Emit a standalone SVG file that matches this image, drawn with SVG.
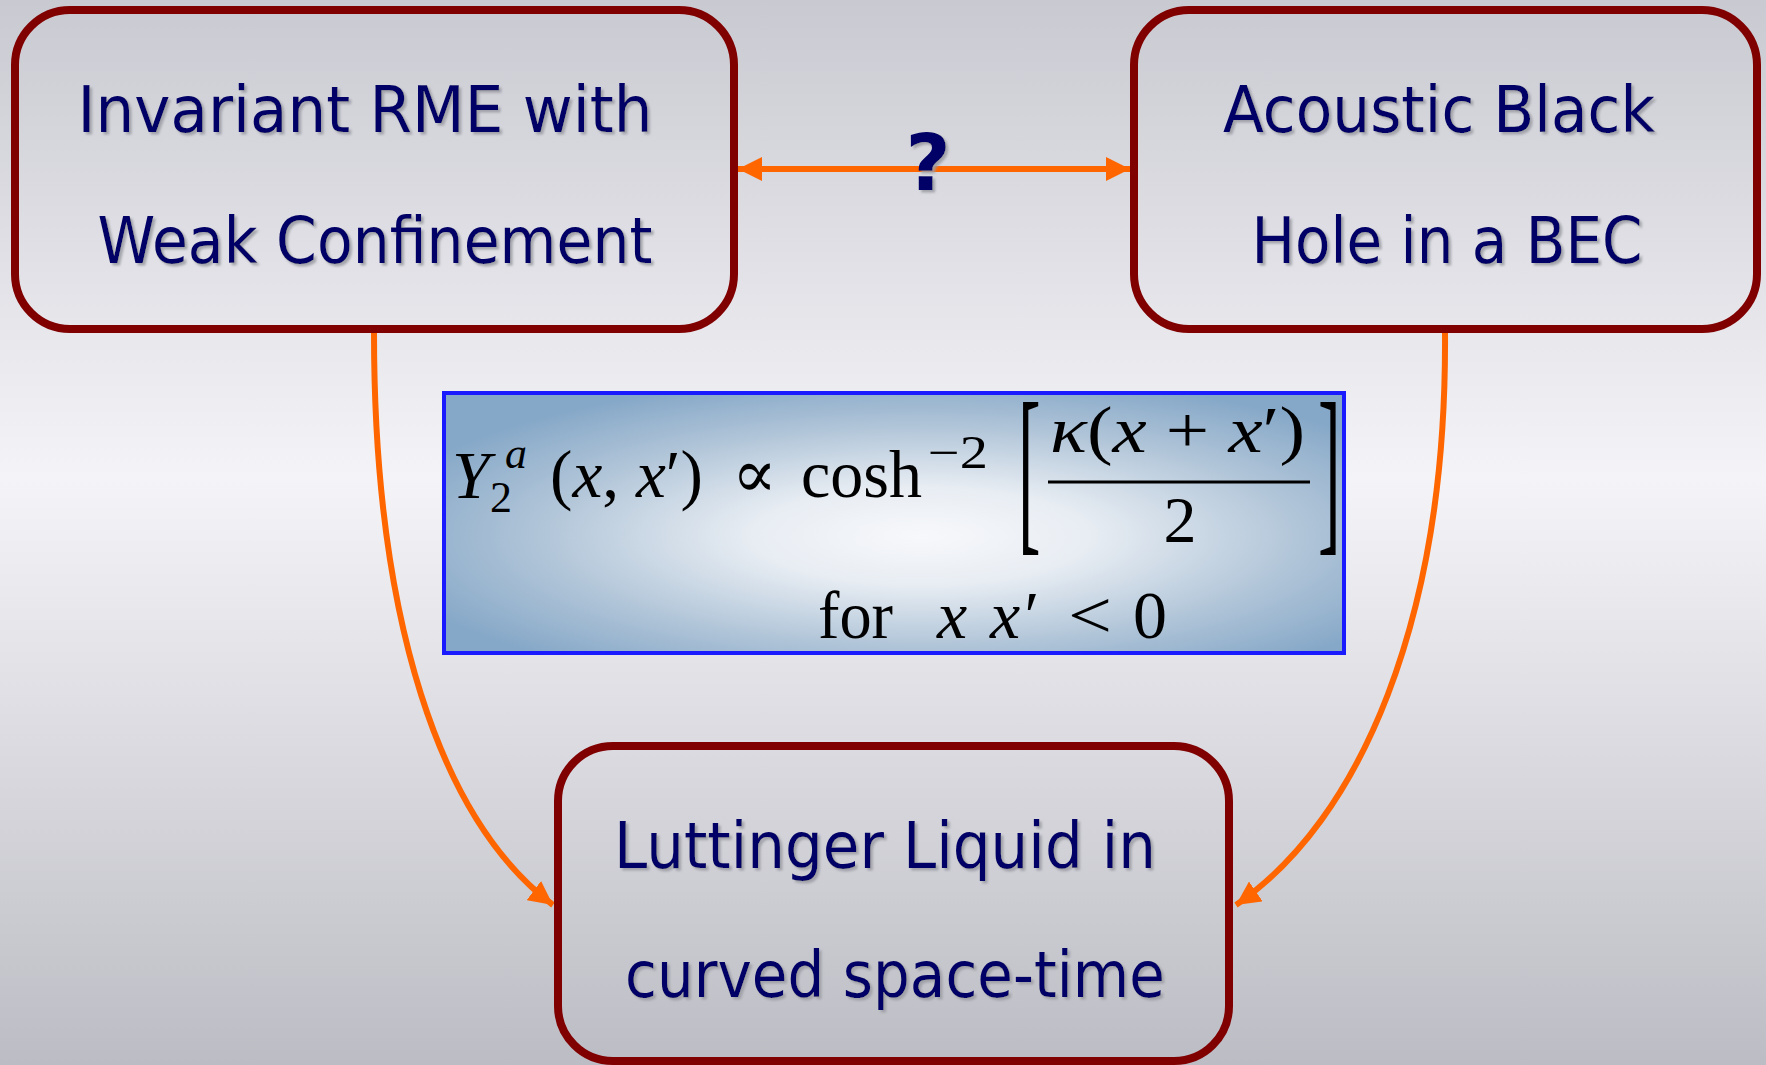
<svg xmlns="http://www.w3.org/2000/svg" width="1766" height="1065" viewBox="0 0 1766 1065">
<defs>
<linearGradient id="bg" x1="0" y1="0" x2="0" y2="1">
<stop offset="0" stop-color="#c9c9d1"/>
<stop offset="0.45" stop-color="#f4f4f8"/>
<stop offset="1" stop-color="#bcbcc4"/>
</linearGradient>
<radialGradient id="fbg" cx="0.53" cy="0.55" r="0.62">
<stop offset="0" stop-color="#f7f8fb"/>
<stop offset="0.3" stop-color="#e8edf3"/>
<stop offset="0.7" stop-color="#aec3d7"/>
<stop offset="1" stop-color="#86a8c8"/>
</radialGradient>
<filter id="sh" x="-5%" y="-10%" width="110%" height="130%">
<feDropShadow dx="2.5" dy="2.5" stdDeviation="0.8" flood-color="#9c9ca4" flood-opacity="0.9"/>
</filter>
<marker id="ah" viewBox="0 0 24 24" markerWidth="24" markerHeight="24" markerUnits="userSpaceOnUse" refX="24" refY="12" orient="auto-start-reverse">
<path d="M0,0 L24,12 L0,24 z" fill="#ff6600"/>
</marker>
<style>
.node rect{fill:none;stroke:#800000;stroke-width:8}
.lbl{font-family:"Comic Sans MS","DejaVu Sans",sans-serif;font-size:64px;fill:#000066;text-anchor:middle;filter:url(#sh)}
.conn{fill:none;stroke:#ff6600;stroke-width:6}
.m{font-family:"Liberation Serif","DejaVu Serif",serif;fill:#000}
.i{font-style:italic}
</style>
</defs>
<rect x="0" y="0" width="1766" height="1065" fill="url(#bg)"/>

<g id="formula">
<rect x="444" y="393" width="900" height="260" fill="url(#fbg)" stroke="#1a1aff" stroke-width="4"/>
<text class="m i" x="452" y="498" font-size="68">Y</text>
<text class="m i" x="505" y="468" font-size="44">a</text>
<text class="m" x="490" y="512" font-size="44">2</text>
<text class="m" x="550" y="497" font-size="68" textLength="153" lengthAdjust="spacingAndGlyphs">(<tspan class="i">x</tspan>, <tspan class="i">x</tspan>′)</text>
<text class="m" x="732" y="497" font-size="68" textLength="45" lengthAdjust="spacingAndGlyphs">∝</text>
<text class="m" x="801" y="497" font-size="68" textLength="121" lengthAdjust="spacingAndGlyphs">cosh</text>
<text class="m" x="928" y="468" font-size="46" textLength="60" lengthAdjust="spacingAndGlyphs">−2</text>
<text class="m" transform="translate(1018 560) scale(1 2.72)" x="0" y="-11" font-size="68">[</text>
<text class="m" x="1050" y="452" font-size="66" textLength="255" lengthAdjust="spacingAndGlyphs"><tspan class="i">κ</tspan>(<tspan class="i">x</tspan> + <tspan class="i">x</tspan>′)</text>
<line x1="1048" y1="482" x2="1310" y2="482" stroke="#000" stroke-width="3"/>
<text class="m" x="1180" y="542" font-size="66" text-anchor="middle">2</text>
<text class="m" transform="translate(1318 560) scale(1 2.72)" x="0" y="-11" font-size="68">]</text>
<text class="m" x="818" y="638" font-size="68" textLength="75" lengthAdjust="spacingAndGlyphs">for</text>
<text class="m i" x="937" y="638" font-size="68">x</text>
<text class="m i" x="990" y="638" font-size="68">x′</text>
<text class="m" x="1068" y="638" font-size="68" textLength="44" lengthAdjust="spacingAndGlyphs">&lt;</text>
<text class="m" x="1133" y="638" font-size="68">0</text>
</g>

<g id="connectors">
<path class="conn" d="M738 169 L1130 169" marker-start="url(#ah)" marker-end="url(#ah)"/>
<path class="conn" d="M374 333 C374 620 440 820 553 905" marker-end="url(#ah)"/>
<path class="conn" d="M1445 333 C1447 620 1360 820 1236 905" marker-end="url(#ah)"/>
<text x="928" y="190" font-family="'Comic Sans MS','DejaVu Sans',sans-serif" font-size="78" font-weight="bold" fill="#000066" text-anchor="middle" filter="url(#sh)">?</text>
</g>

<g id="node-rme" class="node">
<rect x="15" y="10" width="719" height="319" rx="55"/>
<text class="lbl" x="365" y="132" textLength="575" lengthAdjust="spacingAndGlyphs">Invariant RME with</text>
<text class="lbl" x="375" y="263" textLength="555" lengthAdjust="spacingAndGlyphs">Weak Confinement</text>
</g>

<g id="node-bec" class="node">
<rect x="1134" y="10" width="623" height="319" rx="55"/>
<text class="lbl" x="1439" y="132" textLength="432" lengthAdjust="spacingAndGlyphs">Acoustic Black</text>
<text class="lbl" x="1447" y="263" textLength="391" lengthAdjust="spacingAndGlyphs">Hole in a BEC</text>
</g>

<g id="node-ll" class="node">
<rect x="558" y="746" width="671" height="315" rx="55"/>
<text class="lbl" x="885" y="868" textLength="542" lengthAdjust="spacingAndGlyphs">Luttinger Liquid in</text>
<text class="lbl" x="895" y="997" textLength="540" lengthAdjust="spacingAndGlyphs">curved space-time</text>
</g>
</svg>
